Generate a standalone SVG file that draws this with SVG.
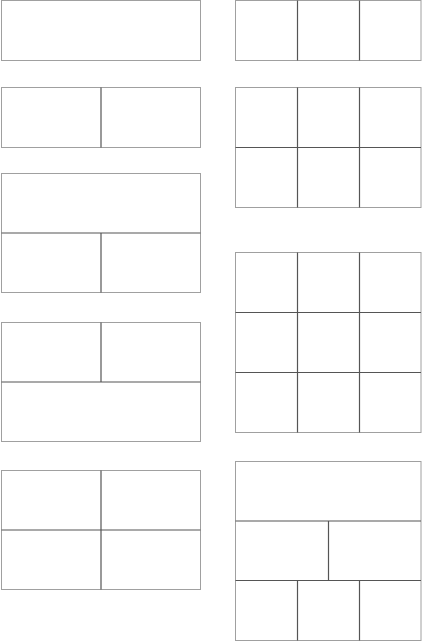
<svg xmlns="http://www.w3.org/2000/svg" width="422" height="642" viewBox="0 0 422 642">
<style>
.o{fill:#fff;stroke:#a0a0a0;stroke-width:1}
.d{stroke:#555;stroke-width:1.2;fill:none}
</style>
<rect width="422" height="642" fill="#fff"/>
<g id="l1"><rect class="o" x="1.5" y="0.5" width="199" height="60"/></g>
<g id="l2"><rect class="o" x="1.5" y="87.5" width="199" height="60"/><line class="d" x1="101" y1="87.5" x2="101" y2="147.5"/></g>
<g id="l3"><rect class="o" x="1.5" y="173.5" width="199" height="119"/><line class="d" x1="1.5" y1="233" x2="200.5" y2="233"/><line class="d" x1="101" y1="233" x2="101" y2="292.5"/></g>
<g id="l4"><rect class="o" x="1.5" y="322.5" width="199" height="119"/><line class="d" x1="1.5" y1="382" x2="200.5" y2="382"/><line class="d" x1="101" y1="322.5" x2="101" y2="382"/></g>
<g id="l5"><rect class="o" x="1.5" y="470.5" width="199" height="119"/><line class="d" x1="1.5" y1="530" x2="200.5" y2="530"/><line class="d" x1="101" y1="470.5" x2="101" y2="589.5"/></g>
<g id="r1"><rect class="o" x="235.5" y="0.5" width="185.5" height="60"/><line class="d" x1="297.5" y1="0.5" x2="297.5" y2="60.5"/><line class="d" x1="359.5" y1="0.5" x2="359.5" y2="60.5"/></g>
<g id="r2"><rect class="o" x="235.5" y="87.5" width="185.5" height="120"/><line class="d" x1="235.5" y1="147.5" x2="421" y2="147.5"/><line class="d" x1="297.5" y1="87.5" x2="297.5" y2="207.5"/><line class="d" x1="359.5" y1="87.5" x2="359.5" y2="207.5"/></g>
<g id="r3"><rect class="o" x="235.5" y="252.5" width="185.5" height="180"/><line class="d" x1="235.5" y1="312.5" x2="421" y2="312.5"/><line class="d" x1="235.5" y1="372.5" x2="421" y2="372.5"/><line class="d" x1="297.5" y1="252.5" x2="297.5" y2="432.5"/><line class="d" x1="359.5" y1="252.5" x2="359.5" y2="432.5"/></g>
<g id="r4"><rect class="o" x="235.5" y="461.5" width="185.5" height="179"/><line class="d" x1="235.5" y1="521" x2="421" y2="521"/><line class="d" x1="235.5" y1="580.5" x2="421" y2="580.5"/><line class="d" x1="328.5" y1="521" x2="328.5" y2="580.5"/><line class="d" x1="297.5" y1="580.5" x2="297.5" y2="640.5"/><line class="d" x1="359.5" y1="580.5" x2="359.5" y2="640.5"/></g>
</svg>
